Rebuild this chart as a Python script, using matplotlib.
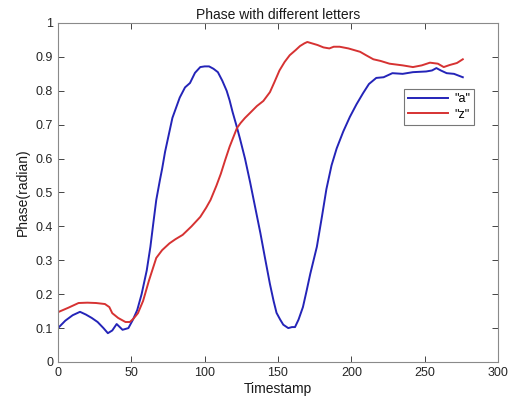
import matplotlib
matplotlib.use("Agg")
import matplotlib.pyplot as plt

plt.rcParams['font.family'] = ['Liberation Sans', 'DejaVu Sans']

t_a = [0, 5, 10, 15, 19, 23, 27, 31, 34, 37, 40, 44, 48, 51, 54, 57, 60.5, 63, 65, 67, 69.5, 71, 73, 75.5, 78, 80.5, 83, 86.6, 90, 93.4, 97, 100, 103, 106, 109, 112, 115, 117, 119, 121.5, 124, 127.5, 131, 134.5, 138, 141, 144.5, 147, 149, 151.5, 153.6, 157, 159.5, 161.6, 164, 167, 169.5, 172, 176.5, 180, 183, 186.5, 190, 194.5, 199, 203.5, 208, 212, 217, 222, 228, 235, 242, 251, 255, 258, 261, 265, 270, 276]
v_a = [0.10, 0.122, 0.138, 0.148, 0.14, 0.13, 0.118, 0.10, 0.085, 0.093, 0.112, 0.095, 0.10, 0.124, 0.153, 0.20, 0.27, 0.34, 0.41, 0.478, 0.537, 0.57, 0.62, 0.67, 0.72, 0.75, 0.78, 0.81, 0.823, 0.853, 0.87, 0.872, 0.872, 0.865, 0.855, 0.83, 0.80, 0.772, 0.738, 0.70, 0.66, 0.60, 0.53, 0.455, 0.38, 0.31, 0.23, 0.18, 0.145, 0.125, 0.11, 0.10, 0.103, 0.103, 0.125, 0.162, 0.21, 0.26, 0.34, 0.43, 0.51, 0.58, 0.63, 0.68, 0.723, 0.76, 0.793, 0.82, 0.838, 0.84, 0.852, 0.85, 0.855, 0.857, 0.86, 0.867, 0.86, 0.852, 0.85, 0.84]

t_z = [0, 7, 14, 20, 26, 32, 35, 37, 41, 46, 49, 51.5, 54.5, 58, 62, 67, 71, 76, 80, 85, 91, 97, 101, 104, 108, 111, 114, 117, 122, 124.5, 127.5, 131, 135.6, 140, 144.5, 147.5, 151, 154.5, 158, 162, 165, 168, 170, 177, 181, 185, 188, 192, 198, 206, 210, 215, 220, 226, 235, 242, 248, 253.6, 259, 263, 267, 272, 276]
v_z = [0.147, 0.16, 0.174, 0.175, 0.174, 0.171, 0.162, 0.144, 0.13, 0.118, 0.118, 0.128, 0.144, 0.18, 0.24, 0.307, 0.33, 0.35, 0.362, 0.375, 0.40, 0.428, 0.455, 0.478, 0.52, 0.555, 0.596, 0.635, 0.69, 0.705, 0.72, 0.735, 0.755, 0.77, 0.796, 0.825, 0.86, 0.885, 0.905, 0.92, 0.932, 0.94, 0.944, 0.935, 0.928, 0.925, 0.93, 0.93, 0.925, 0.915, 0.905, 0.893, 0.888, 0.88, 0.875, 0.87, 0.875, 0.883, 0.88, 0.87, 0.876, 0.882, 0.893]

labels = ['"a"', '"z"']

fig = plt.figure(figsize=(5.14, 4.08), dpi=100)
ax = fig.add_axes([58/514, 1 - 362/408, 440/514, 339/408])

ax.plot(t_a, v_a, color='#2424b8', lw=1.4, label=labels[0])
ax.plot(t_z, v_z, color='#d63232', lw=1.4, label=labels[1])

ax.set_xlim(0, 300)
ax.set_ylim(0, 1)
ax.set_xticks([0, 50, 100, 150, 200, 250, 300])
ax.set_yticks([0, 0.1, 0.2, 0.3, 0.4, 0.5, 0.6, 0.7, 0.8, 0.9, 1])
ax.set_yticklabels(['0', '0.1', '0.2', '0.3', '0.4', '0.5', '0.6', '0.7', '0.8', '0.9', '1'])
ax.tick_params(direction='in', top=True, right=True, labelsize=9, colors='#262626', length=4, width=0.6)
for s in ax.spines.values():
    s.set_color('#8a8a8a')
    s.set_linewidth(0.8)

ax.set_title('Phase with different letters', fontsize=10, color='#1a1a1a', pad=3)
ax.set_xlabel('Timestamp', fontsize=10, color='#1a1a1a', labelpad=2)
ax.set_ylabel('Phase(radian)', fontsize=10, color='#1a1a1a', labelpad=4)

leg = ax.legend(loc='upper right', bbox_to_anchor=(480/514, 1 - 83/408), bbox_transform=fig.transFigure,
                fontsize=9, frameon=True, fancybox=False, handlelength=3.2, borderpad=0.3,
                labelspacing=0.3, handletextpad=0.5)
leg.get_frame().set_edgecolor('#555555')
leg.get_frame().set_linewidth(0.8)

fig.savefig('out.png', dpi=100)
